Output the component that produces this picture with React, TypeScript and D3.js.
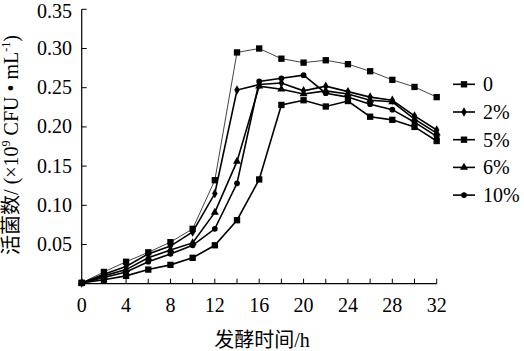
import React from "react";
import * as d3 from "d3";

const times = [0, 2, 4, 6, 8, 10, 12, 14, 16, 18, 20, 22, 24, 26, 28, 30, 32];
const s0 = [0.001, 0.015, 0.028, 0.040, 0.053, 0.070, 0.132, 0.295, 0.300, 0.287, 0.282, 0.285, 0.280, 0.271, 0.260, 0.251, 0.238];
const s2 = [0.001, 0.012, 0.022, 0.038, 0.048, 0.066, 0.115, 0.247, 0.254, 0.256, 0.246, 0.252, 0.245, 0.238, 0.234, 0.214, 0.196];
const s5 = [0.001, 0.005, 0.010, 0.018, 0.024, 0.033, 0.049, 0.081, 0.133, 0.228, 0.234, 0.226, 0.233, 0.213, 0.209, 0.200, 0.182];
const s6 = [0.001, 0.010, 0.018, 0.033, 0.043, 0.052, 0.091, 0.156, 0.252, 0.248, 0.242, 0.246, 0.242, 0.234, 0.232, 0.210, 0.192];
const s10 = [0.001, 0.008, 0.015, 0.028, 0.038, 0.049, 0.070, 0.128, 0.258, 0.262, 0.266, 0.243, 0.238, 0.229, 0.222, 0.206, 0.188];
const seriesNames = ["0", "2%", "5%", "6%", "10%"];
const xTickLabels = [0, 4, 8, 12, 16, 20, 24, 28, 32];
const yTickLabels = [0.05, 0.1, 0.15, 0.2, 0.25, 0.3, 0.35];

const serif = "'Liberation Serif', 'Times New Roman', serif";
const cjk = "'Liberation Serif', 'Noto Sans CJK SC', serif";

export default function App() {
  const x = d3.scaleLinear().domain([0, 32]).range([81.7, 436.7]);
  const y = d3.scaleLinear().domain([0, 0.35]).range([283.7, 9.3]);
  const all = [s0, s2, s5, s6, s10];
  const symbols = [d3.symbolSquare, d3.symbolDiamond, d3.symbolSquare, d3.symbolTriangle, d3.symbolCircle];
  const sizes = [40, 26, 40, 28, 26];
  const colors = ["#444", "#000", "#000", "#000", "#000"];
  const widths = [1, 1.6, 1.6, 1.6, 1.6];
  const line = d3.line<number>().x((_, i) => x(times[i])).y((d) => y(d));
  const minorTicks = d3.range(0, 33, 2);

  return (
    <svg width={524} height={351} style={{ position: "absolute", left: 0, top: 0, background: "#fff" }}>
      {/* axes */}
      <line x1={x(0)} x2={x(32)} y1={y(0)} y2={y(0)} stroke="#000" strokeWidth={1.2} />
      <line x1={x(0)} x2={x(0)} y1={y(0)} y2={y(0.35)} stroke="#000" strokeWidth={1.2} />
      {minorTicks.map((t) => (
        <line key={"xt" + t} x1={x(t)} x2={x(t)} y1={y(0)} y2={y(0) - 5} stroke="#000" strokeWidth={1} />
      ))}
      {yTickLabels.map((v) => (
        <line key={"yt" + v} x1={x(0)} x2={x(0) + 5} y1={y(v)} y2={y(v)} stroke="#000" strokeWidth={1} />
      ))}
      {xTickLabels.map((t) => (
        <text key={"xl" + t} x={x(t)} y={312} textAnchor="middle" fontFamily={serif} fontSize={20}>
          {t}
        </text>
      ))}
      {yTickLabels.map((v) => (
        <text key={"yl" + v} x={72} y={Math.max(y(v) + 6.5, 18)} textAnchor="end" fontFamily={serif} fontSize={20}>
          {v.toFixed(2)}
        </text>
      ))}
      <text x={262} y={347} textAnchor="middle" fontFamily={cjk} fontSize={20}>
        发酵时间/h
      </text>
      <text transform="translate(18,145) rotate(-90)" textAnchor="middle" fontFamily={cjk} fontSize={20}>
        活菌数/ (×10<tspan fontSize={12} dy={-8}>9</tspan>
        <tspan dy={8}> CFU • mL</tspan>
        <tspan fontSize={12} dy={-8}>-1</tspan>
        <tspan dy={8}>)</tspan>
      </text>
      {/* series */}
      {all.map((s, k) => (
        <g key={"s" + k}>
          <path d={line(s) || ""} fill="none" stroke={colors[k]} strokeWidth={widths[k]} />
          {s.map((v, i) => (
            <path
              key={i}
              d={d3.symbol().type(symbols[k]).size(sizes[k])() || ""}
              transform={`translate(${x(times[i])},${y(v)})`}
              fill="#000"
            />
          ))}
        </g>
      ))}
      {/* legend */}
      {seriesNames.map((n, k) => {
        const ly = 84.3 + k * 27.7;
        return (
          <g key={"lg" + k}>
            <line x1={453} x2={475} y1={ly} y2={ly} stroke="#000" strokeWidth={1.6} />
            <path d={d3.symbol().type(symbols[k]).size(sizes[k])() || ""} transform={`translate(464,${ly})`} fill="#000" />
            <text x={483} y={ly + 7} fontFamily={serif} fontSize={20}>
              {n}
            </text>
          </g>
        );
      })}
    </svg>
  );
}
